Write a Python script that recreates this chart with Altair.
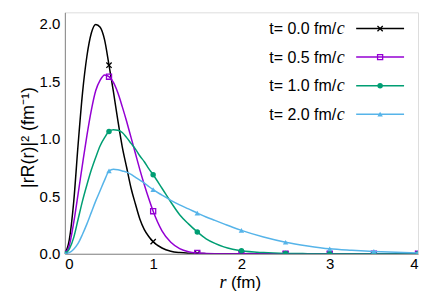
import altair as alt
import pandas as pd

# ---- data ----
r = [0, 0.05, 0.1, 0.15, 0.2, 0.25, 0.3, 0.35, 0.4, 0.45, 0.5, 0.55, 0.6, 0.65, 0.7,
     0.75, 0.8, 0.85, 0.9, 0.95, 1.0, 1.1, 1.2, 1.3, 1.4, 1.5, 1.6, 1.7, 1.8, 1.9, 2.0,
     2.25, 2.5, 2.75, 3.0, 3.25, 3.5, 3.75, 4.0]

t00 = [0, 0.12, 0.45, 0.95, 1.40, 1.72, 1.92, 1.995, 1.97, 1.86, 1.64, 1.41, 1.16, 0.93, 0.75,
       0.57, 0.43, 0.30, 0.21, 0.15, 0.105, 0.05, 0.022, 0.01, 0.004, 0.002, 0.001, 0, 0, 0, 0,
       0, 0, 0, 0, 0, 0, 0, 0]
t05 = [0, 0.07, 0.27, 0.52, 0.78, 1.03, 1.25, 1.42, 1.51, 1.555, 1.54, 1.49, 1.40, 1.28, 1.15,
       1.01, 0.87, 0.73, 0.60, 0.48, 0.37, 0.20, 0.10, 0.045, 0.018, 0.007, 0.003, 0.001, 0, 0, 0,
       0, 0, 0, 0, 0, 0, 0, 0]
t10 = [0, 0.04, 0.14, 0.30, 0.46, 0.60, 0.73, 0.84, 0.94, 1.01, 1.064, 1.078, 1.075, 1.055, 1.01,
       0.96, 0.91, 0.85, 0.80, 0.74, 0.687, 0.57, 0.45, 0.34, 0.26, 0.19, 0.13, 0.09, 0.06, 0.04, 0.026,
       0.01, 0.003, 0.001, 0, 0, 0, 0, 0]
t20 = [0, 0.01, 0.04, 0.09, 0.17, 0.26, 0.36, 0.46, 0.55, 0.64, 0.72, 0.735, 0.73, 0.72, 0.71,
       0.69, 0.665, 0.64, 0.615, 0.585, 0.557, 0.51, 0.465, 0.425, 0.39, 0.354, 0.32, 0.29, 0.26, 0.23, 0.203,
       0.145, 0.10, 0.068, 0.043, 0.03, 0.02, 0.012, 0.006]

times = ["0.0", "0.5", "1.0", "2.0"]
series_values = [t00, t05, t10, t20]
colors = ["#000000", "#9400d3", "#009e73", "#56b4e9"]

x_ticks = [0, 1, 2, 3, 4]
y_ticks = [0.0, 0.5, 1.0, 1.5, 2.0]

CROSS = "M-1,-1L1,1M1,-1L-1,1"
marker_specs = [
    dict(shape=CROSS, filled=False, size=28, strokeWidth=1.3),
    dict(shape="square", filled=False, size=26, strokeWidth=1.3),
    dict(shape="circle", filled=True, size=30, strokeWidth=0.8),
    dict(shape="triangle-up", filled=True, size=30, strokeWidth=0.5),
]

xs = alt.Scale(domain=[0, 4], nice=False)
ys = alt.Scale(domain=[0, 2.1], nice=False)

x_axis = alt.Axis(values=x_ticks, format="d", title=None, ticks=False, grid=False,
                  labelPadding=3, labelFontSize=15, labelFont="Liberation Sans",
                  labelColor="#000", domainColor="#888")
y_axis = alt.Axis(values=y_ticks, format=".1f", ticks=False, grid=False,
                  labelPadding=5, labelFontSize=15, labelFont="Liberation Sans",
                  labelColor="#000", domainColor="#888",
                  title="|rR(r)|² (fm⁻¹)", titleFontSize=18, titleFont="Liberation Sans",
                  titleFontWeight="normal", titleColor="#000",
                  titleX=-36, titleY=125, titleAngle=270, titleAlign="center",
                  titleBaseline="middle")

X = alt.X("r:Q", scale=xs, axis=x_axis)
Y = alt.Y("v:Q", scale=ys, axis=y_axis)

layers = []
dummy = pd.DataFrame({"a": [0]})
for i, (t, vals, col, mk) in enumerate(zip(times, series_values, colors, marker_specs)):
    df = pd.DataFrame({"r": r, "v": vals})
    pts = df[(df["r"] * 2) % 1 == 0]
    line = alt.Chart(df).mark_line(interpolate="monotone", strokeWidth=1.5, color=col, clip=True).encode(
        x=X, y=Y)
    point = alt.Chart(pts).mark_point(
        shape=mk["shape"], filled=mk["filled"], size=mk["size"], strokeWidth=mk["strokeWidth"],
        color=col, opacity=1, clip=True,
    ).encode(x=X, y=Y)
    layers += [line, point]

    # legend row
    yc = 16.3 + 28.6 * i
    yb = 22.1 + 28.6 * i
    layers.append(alt.Chart(dummy).mark_text(align="right", baseline="alphabetic", font="Liberation Sans",
                                             fontSize=16, color="#000", text=f"t= {t} fm/").encode(
        x=alt.value(272), y=alt.value(yb)))
    layers.append(alt.Chart(dummy).mark_text(align="left", baseline="alphabetic", font="Liberation Serif",
                                             fontStyle="italic", fontSize=18, color="#000", text="c").encode(
        x=alt.value(272.5), y=alt.value(yb)))
    layers.append(alt.Chart(dummy).mark_rule(color=col, strokeWidth=1.5).encode(
        x=alt.value(292), x2=alt.value(340), y=alt.value(yc)))
    layers.append(alt.Chart(dummy).mark_point(
        shape=mk["shape"], filled=mk["filled"], size=mk["size"], strokeWidth=mk["strokeWidth"],
        color=col, opacity=1).encode(x=alt.value(316), y=alt.value(yc)))

# x-axis title with italic r
layers.append(alt.Chart(dummy).mark_text(align="right", baseline="alphabetic", font="Liberation Serif",
                                         fontStyle="italic", fontSize=18, color="#000", text="r").encode(
    x=alt.value(162), y=alt.value(276.5)))
layers.append(alt.Chart(dummy).mark_text(align="left", baseline="alphabetic", font="Liberation Sans",
                                         fontSize=17, color="#000", text="(fm)").encode(
    x=alt.value(166.5), y=alt.value(276.5)))

chart = alt.layer(*layers).properties(
    width=354, height=242,
    autosize=alt.AutoSizeParams(type="none"),
    padding={"left": 57, "top": 4, "right": 10, "bottom": 37},
).configure_view(stroke="#888", strokeWidth=1).configure(background="white")

chart.save("out.html", embed_options={"renderer": "svg", "actions": False})
